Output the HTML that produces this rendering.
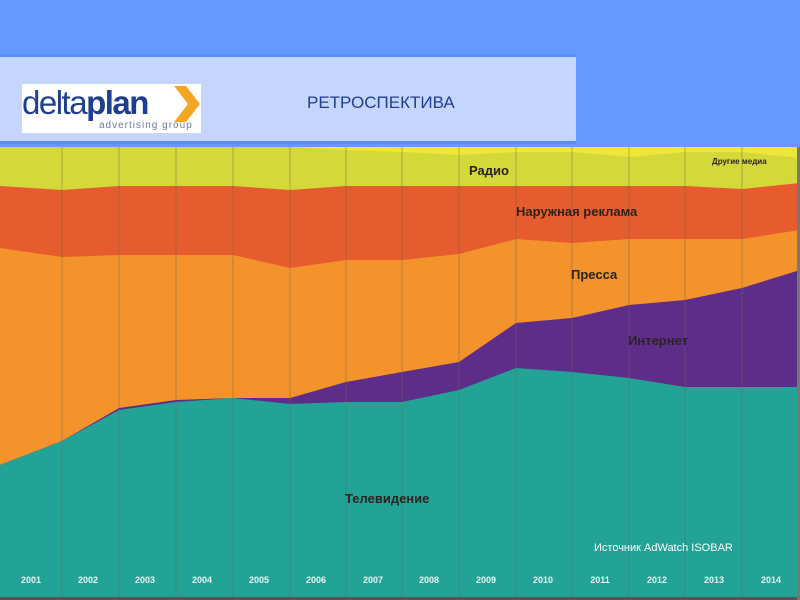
<!DOCTYPE html>
<html><head><meta charset="utf-8"><style>
body{margin:0;width:800px;height:600px;background:#6699ff;overflow:hidden;position:relative;font-family:"Liberation Sans",sans-serif}
.hdr{position:absolute;left:0;top:54px;width:576px;height:84px;background:#c5d5fd;border-top:3px solid #5b8ef5;border-bottom:3px solid #5b8ef5}
.logo{position:absolute;left:22px;top:27px;width:179px;height:49px;background:#fff}
</style></head><body>
<div class="hdr">
<div class="logo">
<div style="position:absolute;left:0;top:0px;font-size:33px;color:#1e3f8f;letter-spacing:-1.5px"><span>delta</span><b>plan</b></div>
<svg style="position:absolute;left:152px;top:2px" width="26" height="36"><polygon points="0,0 12,0 26,18 12,36 0,36 14,18" fill="#f4a623"/></svg>
<div style="position:absolute;left:77px;top:36px;font-size:10px;color:#6b7a99;letter-spacing:1px">advertising group</div>
</div>
<div style="position:absolute;left:307px;top:36px;font-size:17px;color:#1e3f8f">РЕТРОСПЕКТИВА</div>
</div>
<svg style="position:absolute;left:0;top:0" width="800" height="600">
<rect x="0" y="147" width="800" height="451" fill="#f0e63a"/>
<polygon fill="#d4d93a" points="0,147 290,147 346,150 402,152 459,155 516,152 572,152 629,157 685,152 742,152 800,158 800,600 0,600"/>
<polygon fill="#e65c2e" points="0,186 62,190 119,186 176,186 233,186 290,190 346,186 402,186 459,186 516,186 572,186 629,186 685,186 742,189 800,183 800,600 0,600"/>
<polygon fill="#f4922b" points="0,248 62,257 119,255 176,255 233,255 290,268 346,260 402,260 459,254 516,239 572,243 629,239 685,239 742,239 800,230 800,600 0,600"/>
<polygon fill="#5e2d8a" points="0,465 62,441 119,408 176,400 233,398 290,398 346,382 402,372 459,362 516,323 572,318 629,305 685,300 742,288 800,270 800,600 0,600"/>
<polygon fill="#22a396" points="0,465 62,441 119,410 176,402 233,398 290,404 346,402 402,402 459,390 516,368 572,372 629,378 685,387 742,387 800,387 800,600 0,600"/>
<g stroke="#6a6a4a" stroke-opacity="0.45" stroke-width="1">
<line x1="62" y1="147" x2="62" y2="598"/><line x1="119" y1="147" x2="119" y2="598"/><line x1="176" y1="147" x2="176" y2="598"/><line x1="233" y1="147" x2="233" y2="598"/><line x1="290" y1="147" x2="290" y2="598"/><line x1="346" y1="147" x2="346" y2="598"/><line x1="402" y1="147" x2="402" y2="598"/><line x1="459" y1="147" x2="459" y2="598"/><line x1="516" y1="147" x2="516" y2="598"/><line x1="572" y1="147" x2="572" y2="598"/><line x1="629" y1="147" x2="629" y2="598"/><line x1="685" y1="147" x2="685" y2="598"/><line x1="742" y1="147" x2="742" y2="598"/>
</g>
<rect x="0" y="597" width="800" height="3" fill="#555"/>
<rect x="797" y="147" width="3" height="453" fill="#777"/>
<g font-family="Liberation Sans, sans-serif" font-weight="bold" fill="#2a2320">
<text x="469" y="175" font-size="13">Радио</text>
<text x="712" y="164" font-size="8">Другие медиа</text>
<text x="516" y="216" font-size="13">Наружная реклама</text>
<text x="571" y="279" font-size="13">Пресса</text>
<text x="628" y="345" font-size="13">Интернет</text>
<text x="345" y="503" font-size="13">Телевидение</text>
</g>
<text x="594" y="551" font-size="11" fill="#fff" font-family="Liberation Sans Narrow, Liberation Sans, sans-serif">Источник AdWatch ISOBAR</text>
<g font-size="9" font-weight="bold" fill="#e8f5f2" font-family="Liberation Sans, sans-serif" text-anchor="middle">
<text x="31" y="583">2001</text><text x="88" y="583">2002</text><text x="145" y="583">2003</text><text x="202" y="583">2004</text><text x="259" y="583">2005</text><text x="316" y="583">2006</text><text x="373" y="583">2007</text><text x="429" y="583">2008</text><text x="486" y="583">2009</text><text x="543" y="583">2010</text><text x="600" y="583">2011</text><text x="657" y="583">2012</text><text x="714" y="583">2013</text><text x="771" y="583">2014</text>
</g>
</svg>
</body></html>
